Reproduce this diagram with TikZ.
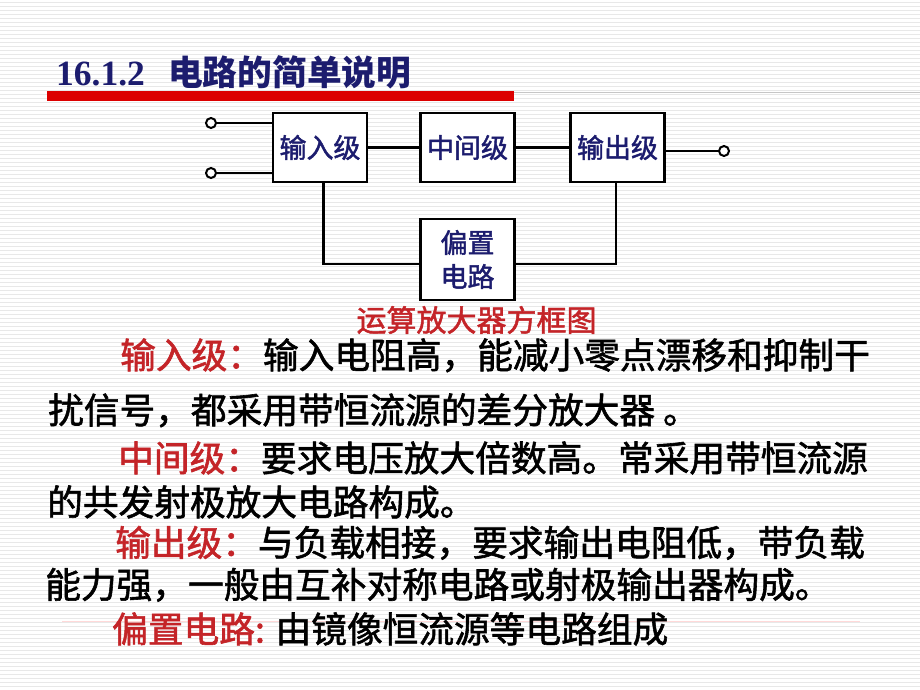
\documentclass[tikz,border=0pt]{standalone}
\usepackage{fontspec}
\setmainfont{Liberation Serif}
\newfontfamily\cjk{Noto Sans CJK SC}[FakeBold=1.6]
\newfontfamily\cjkt{Noto Sans CJK SC}
\definecolor{navy}{RGB}{28,28,110}
\definecolor{lred}{RGB}{196,36,40}
\definecolor{barred}{RGB}{220,0,0}
\begin{document}
\begin{tikzpicture}[x=1pt,y=-1pt,
  blk/.style={draw, fill=white, line width=2.8pt, minimum width=94pt, minimum height=69pt, inner sep=0pt, font=\cjk\fontsize{27}{36}\selectfont, text=navy, align=center},
  wire/.style={line width=2.4pt},
  term/.style={circle, draw, line width=2pt, fill=white, minimum size=10pt, inner sep=0pt},
  body/.style={anchor=base west, inner sep=0pt, font=\cjk\fontsize{35.7}{40}\selectfont},
  ttl/.style={anchor=base west, inner sep=0pt, text=navy}]
\useasboundingbox (0,0) rectangle (920,690);
\fill[white] (0,0) rectangle (920,690);
\foreach \y in {2,6,...,690} \draw[gray!18, line width=0.7pt] (0,\y) -- (920,\y);
% title
\node[ttl, font=\bfseries\fontsize{35.5}{40}\selectfont] (tnum) at (56,86) {16.1.2};
\node[ttl, font=\cjkt\bfseries\fontsize{34.7}{40}\selectfont] (ttext) at (168,86) {电路的简单说明};
\fill[barred] (47,91) rectangle (514,101);
\draw[gray!45, line width=1pt] (514,93) -- (920,93);
% diagram
\node[blk] (b1) at (320,147.5) {输入级};
\node[blk] (b2) at (467.5,147.5) {中间级};
\node[blk] (b3) at (617.5,147.5) {输出级};
\node[blk, minimum height=81pt] (b4) at (467.5,259.5) {偏置\\[-2pt]电路};
\node[term] (i1) at (211,123) {};
\node[term] (i2) at (211,173) {};
\node[term] (o1) at (724,151) {};
\draw[wire] (i1) -- (i1 -| b1.west);
\draw[wire] (i2) -- (i2 -| b1.west);
\draw[wire] (b1) -- (b2);
\draw[wire] (b2) -- (b3);
\draw[wire] (b3.east |- o1) -- (o1);
\coordinate (bl) at ([yshift=-4.5pt]b4.west);
\coordinate (br) at ([yshift=-4.5pt]b4.east);
\draw[wire] ([xshift=3.5pt]b1.south) |- (bl);
\draw[wire] ([xshift=-1.5pt]b3.south) |- (br);
\node[inner sep=0pt, text=lred, font=\cjk\fontsize{30}{36}\selectfont] (cap) at (476.5,320) {运算放大器方框图};
% body text
\draw[red!15, line width=1pt] (62,621) -- (860,621);
\node[body] (l1) at (120,368.5) {{\color{lred}输入级：}输入电阻高，能减小零点漂移和抑制干};
\node[body] (l2) at (48,423.5) {扰信号，都采用带恒流源的差分放大器 。};
\node[body] (l3) at (118,471.5) {{\color{lred}中间级：}要求电压放大倍数高。常采用带恒流源};
\node[body] (l4) at (47,515.5) {的共发射极放大电路构成。};
\node[body] (l5) at (115,556) {{\color{lred}输出级：}与负载相接，要求输出电阻低，带负载};
\node[body] (l6) at (45,598) {能力强，一般由互补对称电路或射极输出器构成。};
\node[body] (l7) at (112,642.5) {{\color{lred}偏置电路:} 由镜像恒流源等电路组成};
\end{tikzpicture}
\end{document}
